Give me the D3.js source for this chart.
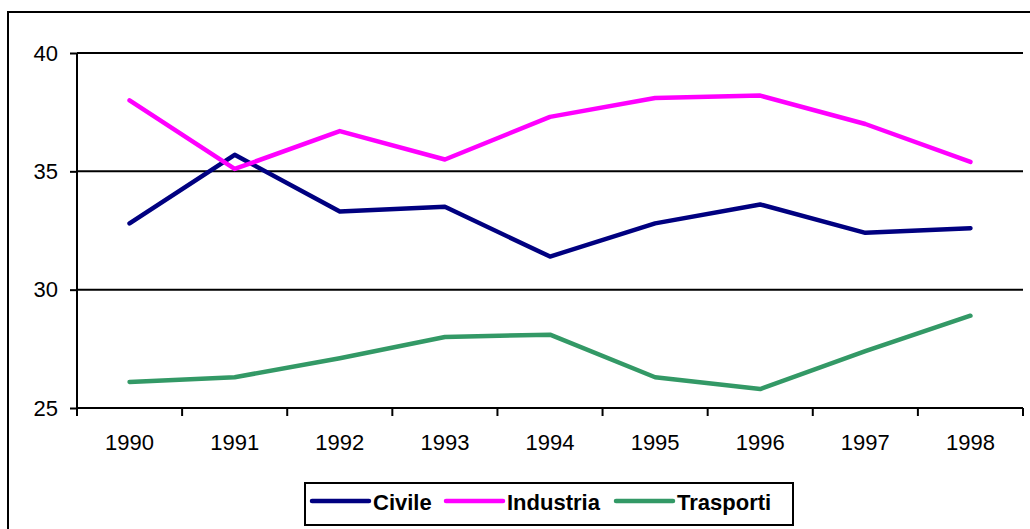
<!DOCTYPE html>
<html><head><meta charset="utf-8">
<script src="https://cdn.jsdelivr.net/npm/d3@7"></script>
<style>html,body{margin:0;padding:0;background:#fff;}svg{display:block;}</style>
</head><body>
<svg id="c" width="1030" height="529"></svg>
<script>
const years = ["1990","1991","1992","1993","1994","1995","1996","1997","1998"];
const civile = [32.8, 35.7, 33.3, 33.5, 31.4, 32.8, 33.6, 32.4, 32.6];
const industria = [38.0, 35.1, 36.7, 35.5, 37.3, 38.1, 38.2, 37.0, 35.4];
const trasporti = [26.1, 26.3, 27.1, 28.0, 28.1, 26.3, 25.8, 27.4, 28.9];
const yTicks = [25, 30, 35, 40];
const seriesNames = ["Civile", "Industria", "Trasporti"];
const seriesColors = ["#000080", "#FF00FF", "#339966"];
const seriesData = [civile, industria, trasporti];

const svg = d3.select("#c");
const font = "Arial, 'Liberation Sans', sans-serif";

// outer frame
svg.append("rect").attr("x", 8).attr("y", 12).attr("width", 1040).attr("height", 540)
  .attr("fill", "none").attr("stroke", "#000").attr("stroke-width", 2);

const L = 77, R = 1023, T = 53, B = 408;
const x = d3.scaleBand().domain(years).range([L, R]);
const y = d3.scaleLinear().domain([25, 40]).range([B, T]);

// gridlines
svg.append("g").selectAll("line").data(yTicks.filter(d => d > 25)).join("line")
  .attr("x1", L).attr("x2", R).attr("y1", d => y(d)).attr("y2", d => y(d))
  .attr("stroke", "#000").attr("stroke-width", 2);

// y axis
const ya = svg.append("g").attr("transform", `translate(${L},0)`)
  .call(d3.axisLeft(y).tickValues(yTicks).tickSize(7).tickPadding(12).tickFormat(d3.format("d")));
ya.select(".domain").attr("stroke-width", 2).attr("d", `M0,${T}V${B}`);
ya.selectAll(".tick line").attr("stroke-width", 2);
ya.selectAll("text").attr("font-family", font).attr("font-size", 22).attr("fill", "#000");

// x axis
const xa = svg.append("g").attr("transform", `translate(0,${B})`)
  .call(d3.axisBottom(x).tickSize(0).tickPadding(26));
xa.select(".domain").attr("stroke-width", 2).attr("d", `M${L},0H${R}`);
xa.selectAll("text").attr("font-family", font).attr("font-size", 22).attr("fill", "#000");
// category boundary ticks
const bounds = years.map(d => x(d)).concat([R]);
xa.append("g").selectAll("line").data(bounds).join("line")
  .attr("x1", d => d).attr("x2", d => d).attr("y1", 0).attr("y2", 8)
  .attr("stroke", "#000").attr("stroke-width", 2);

// lines
const line = d3.line().x((d, i) => x(years[i]) + x.bandwidth() / 2).y(d => y(d));
seriesData.forEach((s, k) => {
  svg.append("path").attr("d", line(s)).attr("fill", "none")
    .attr("stroke", seriesColors[k]).attr("stroke-width", 4.5)
    .attr("stroke-linejoin", "round").attr("stroke-linecap", "round");
});

// legend
svg.append("rect").attr("x", 305).attr("y", 483).attr("width", 488).attr("height", 42)
  .attr("fill", "#fff").attr("stroke", "#000").attr("stroke-width", 2);
const legX = [312, 446, 616];
seriesNames.forEach((n, k) => {
  svg.append("line").attr("x1", legX[k]).attr("x2", legX[k] + 57).attr("y1", 501).attr("y2", 501)
    .attr("stroke", seriesColors[k]).attr("stroke-width", 4.5).attr("stroke-linecap", "round");
  svg.append("text").attr("x", legX[k] + 61).attr("y", 510).text(n)
    .attr("font-family", font).attr("font-size", 22).attr("font-weight", "bold").attr("fill", "#000");
});
</script>
</body></html>
